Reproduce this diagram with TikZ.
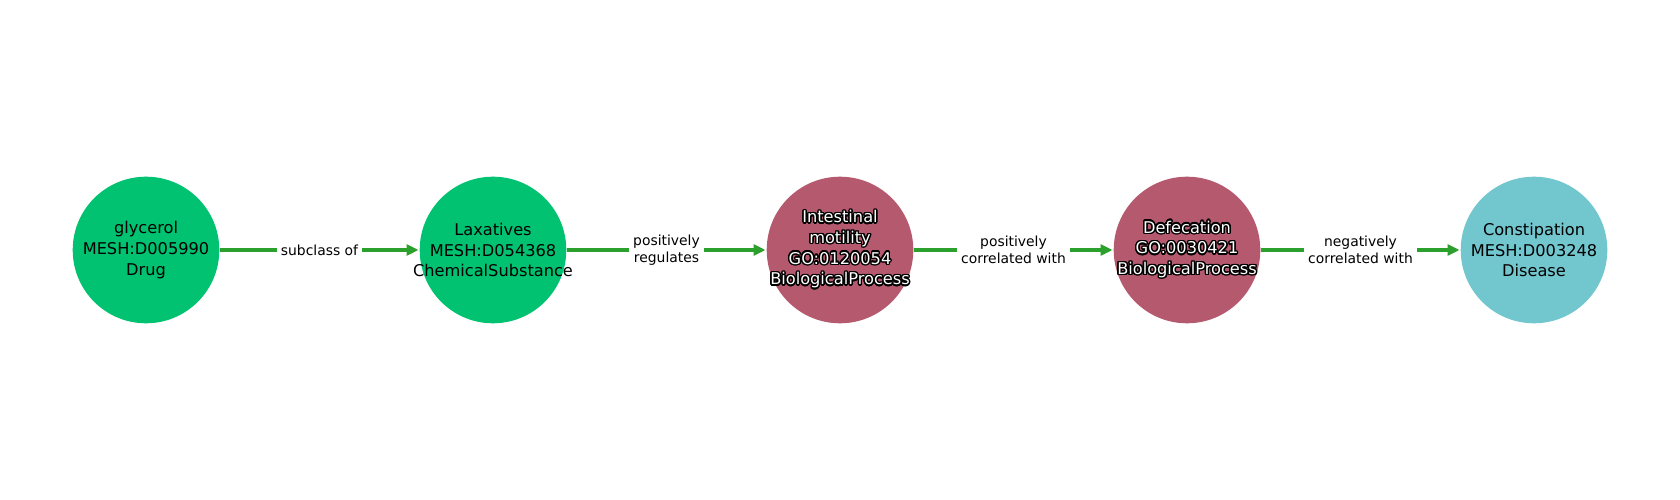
\documentclass[tikz,border=0pt]{standalone}
\usepackage{fontspec}
\setmainfont{DejaVu Sans}
\usepackage{xcolor}
\usepackage{contour}
\usepackage{tikz}
\usetikzlibrary{arrows.meta}
\definecolor{drugcol}{RGB}{0,194,112}
\definecolor{proccol}{RGB}{181,89,111}
\definecolor{discol}{RGB}{114,198,206}
\definecolor{edgecol}{RGB}{44,160,44}
\contourlength{1.4pt}
\newcommand{\outl}[1]{\contour{black}{#1}}
\tikzset{
  ent/.style={circle, inner sep=0pt, minimum size=146.6pt},
  enttext/.style={align=center, font=\fontsize{16.2}{20.7}\selectfont},
  rel/.style={line width=4pt, draw=edgecol,
    -{Triangle[length=12pt,width=11pt]}, shorten >=1pt},
  rellabel/.style={fill=white, align=center, inner sep=4pt,
    font=\fontsize{13.9}{16.5}\selectfont}
}
\begin{document}
\begin{tikzpicture}[x=1pt,y=1pt]
    \fill[white] (0,0) rectangle (1680,500);
    \useasboundingbox (0,0) rectangle (1680,500);
    \node[ent, fill=drugcol,
      label={[enttext]center:{glycerol\\MESH:D005990\\Drug}}]
      (glycerol) at (146,250) {};
    \node[ent, fill=drugcol,
      label={[enttext]center:{Laxatives\\MESH:D054368\\ChemicalSubstance}}]
      (laxatives) at (493,250) {};
    \node[ent, fill=proccol,
      label={[enttext, text=white]center:{\outl{Intestinal}\\\outl{motility}\\\outl{GO:0120054}\\\outl{BiologicalProcess}}}]
      (motility) at (840,250) {};
    \node[ent, fill=proccol,
      label={[enttext, text=white]center:{\outl{Defecation}\\\outl{GO:0030421}\\\outl{BiologicalProcess}}}]
      (defecation) at (1187,250) {};
    \node[ent, fill=discol,
      label={[enttext]center:{Constipation\\MESH:D003248\\Disease}}]
      (constipation) at (1534,250) {};
    \draw[rel] (glycerol) -- node[rellabel] {subclass of} (laxatives);
    \draw[rel] (laxatives) -- node[rellabel] {positively\\regulates} (motility);
    \draw[rel] (motility) -- node[rellabel] {positively\\correlated with} (defecation);
    \draw[rel] (defecation) -- node[rellabel] {negatively\\correlated with} (constipation);
\end{tikzpicture}
\end{document}
